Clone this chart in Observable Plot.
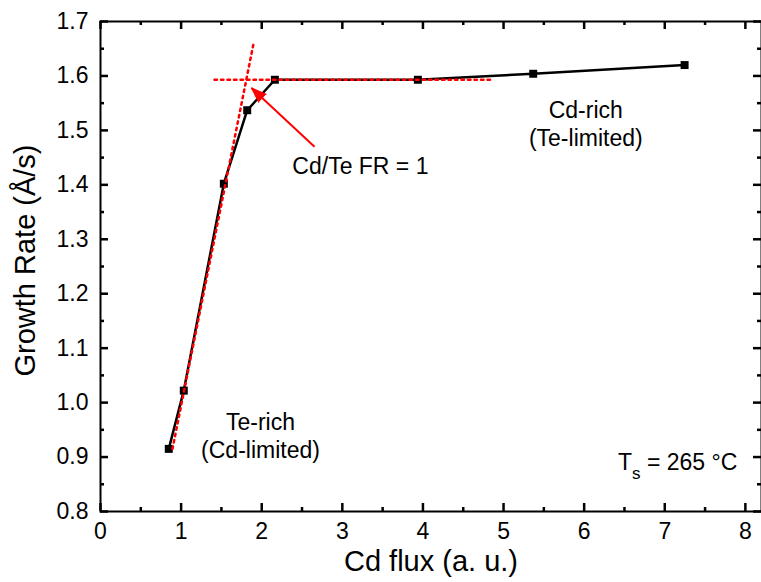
<!DOCTYPE html>
<html>
<head>
<meta charset="utf-8">
<script src="https://cdn.jsdelivr.net/npm/d3@7"></script>
<script src="https://cdn.jsdelivr.net/npm/@observablehq/plot@0.6"></script>
<style>
  html, body { margin: 0; padding: 0; background: #fff; }
  svg { font-family: "Liberation Sans", Arial, sans-serif; }
</style>
</head>
<body>
<div id="chart"></div>
<script>
// Data
const flux = [0.847, 1.033, 1.530, 1.820, 2.163, 3.937, 5.368, 7.246];
const rate = [0.915, 1.022, 1.402, 1.537, 1.593, 1.593, 1.604, 1.620];

// Red dotted guide lines
const steepX = [0.893, 1.898];
const steepY = [0.915, 1.659];
const plateauX = [1.414, 4.839];
const plateauY = [1.593, 1.593];

// Arrow (tail -> head)
const arrowX = [2.655, 1.873];
const arrowY = [1.470, 1.578];

// Ticks
const xTicks = [0, 1, 2, 3, 4, 5, 6, 7, 8];
const xMinor = [0.5, 1.5, 2.5, 3.5, 4.5, 5.5, 6.5, 7.5];
const yTicks = [0.8, 0.9, 1.0, 1.1, 1.2, 1.3, 1.4, 1.5, 1.6, 1.7];
const yMinor = [0.85, 0.95, 1.05, 1.15, 1.25, 1.35, 1.45, 1.55, 1.65];

// Text
const xTitle = "Cd flux (a. u.)";
const yTitle = "Growth Rate (Å/s)";
const annText = ["Cd/Te FR = 1", "Cd-rich\n(Te-limited)", "Te-rich\n(Cd-limited)", "Ts = 265 °C"];
const annX = [2.38, 6.02, 1.985, 7.90];
const annY = [1.437, 1.514, 0.941, 0.893];
const annAnchor = ["start", "middle", "middle", "end"];

const xDomain = [0, 8.2];
const yDomain = [0.8, 1.7];

const W = 761, H = 582, ML = 100, MR = 0, MT = 21, MB = 71;
// tick lengths in pixels converted to data units (for rule endpoints)
const xUnitPerPx = (xDomain[1] - xDomain[0]) / (W - ML - MR);
const yUnitPerPx = (yDomain[1] - yDomain[0]) / (H - MT - MB);
const MAJOR = 8, MINOR = 4;

const pts = flux.map((x, i) => ({x, y: rate[i]}));
const steep = steepX.map((x, i) => ({x, y: steepY[i]}));
const plateau = plateauX.map((x, i) => ({x, y: plateauY[i]}));
const ann = annText.map((t, i) => ({t, x: annX[i], y: annY[i], a: annAnchor[i]}));

function xTickRules(values, edge, len, dir) {
  return Plot.ruleX(values, {x: d => d, y1: () => edge, y2: () => edge + dir * len * yUnitPerPx,
    stroke: "black", strokeWidth: 2.5});
}
function yTickRules(values, edge, len, dir) {
  return Plot.ruleY(values, {y: d => d, x1: () => edge, x2: () => edge + dir * len * xUnitPerPx,
    stroke: "black", strokeWidth: 2.5});
}

const chart = Plot.plot({
  width: W,
  height: H,
  marginLeft: ML,
  marginRight: MR,
  marginTop: MT,
  marginBottom: MB,
  x: {domain: xDomain},
  y: {domain: yDomain},
  marks: [
    Plot.axisX(xTicks, {anchor: "bottom", tickSize: 0, tickPadding: 11, fontSize: 23, label: null}),
    Plot.axisY(yTicks, {anchor: "left", tickSize: 0, tickPadding: 12, fontSize: 23, tickFormat: d3.format(".1f"), label: null}),
    Plot.line(pts, {x: "x", y: "y", stroke: "black", strokeWidth: 2.5}),
    Plot.dot(pts, {x: "x", y: "y", symbol: "square", r: 4.5, fill: "black"}),
    Plot.line(steep, {x: "x", y: "y", stroke: "red", strokeWidth: 2.5, strokeDasharray: "2.5,4"}),
    Plot.line(plateau, {x: "x", y: "y", stroke: "red", strokeWidth: 2.5, strokeDasharray: "2.5,4"}),
    Plot.link([0], {x1: () => arrowX[0], y1: () => arrowY[0], x2: () => arrowX[1], y2: () => arrowY[1], stroke: "red", strokeWidth: 2}),
    Plot.vector([0], {x: () => arrowX[1], y: () => arrowY[1], length: 15, rotate: -47, anchor: "end", shape: "spike", r: 5.5, fill: "red", stroke: "red", strokeWidth: 1}),
    Plot.text(ann, {filter: d => d.a === "start", x: "x", y: "y", text: "t", textAnchor: "start", lineAnchor: "middle", lineHeight: 1.25, fontSize: 23, fill: "black"}),
    Plot.text(ann, {filter: d => d.a === "middle", x: "x", y: "y", text: "t", textAnchor: "middle", lineAnchor: "middle", lineHeight: 1.25, fontSize: 23, fill: "black"}),
    Plot.text(ann, {filter: d => d.a === "end", x: "x", y: "y", text: "t", textAnchor: "end", lineAnchor: "middle", lineHeight: 1.25, fontSize: 23, fill: "black"}),
    Plot.text([xTitle], {frameAnchor: "bottom", dy: 50, fontSize: 29, textAnchor: "middle", lineAnchor: "middle", fill: "black"}),
    Plot.text([yTitle], {frameAnchor: "left", dx: -75, dy: -6, rotate: -90, fontSize: 29, textAnchor: "middle", lineAnchor: "middle", fill: "black"}),
    Plot.frame({stroke: "black", strokeWidth: 2}),
    xTickRules(xTicks, yDomain[0], MAJOR, 1),
    xTickRules(xMinor, yDomain[0], MINOR, 1),
    xTickRules(xTicks, yDomain[1], MAJOR, -1),
    xTickRules(xMinor, yDomain[1], MINOR, -1),
    yTickRules(yTicks, xDomain[0], MAJOR, 1),
    yTickRules(yMinor, xDomain[0], MINOR, 1),
    yTickRules(yTicks, xDomain[1], MAJOR, -1),
    yTickRules(yMinor, xDomain[1], MINOR, -1)
  ]
});

// Subscript for T_s
d3.select(chart).selectAll("text").each(function() {
  if (this.textContent === "Ts = 265 °C") {
    const t = d3.select(this);
    t.text(null);
    t.append("tspan").text("T");
    t.append("tspan").attr("dy", 9).attr("font-size", 17).text("s");
    t.append("tspan").attr("dy", -9).text(" = 265 °C");
  }
});

document.getElementById("chart").appendChild(chart);
</script>
</body>
</html>
